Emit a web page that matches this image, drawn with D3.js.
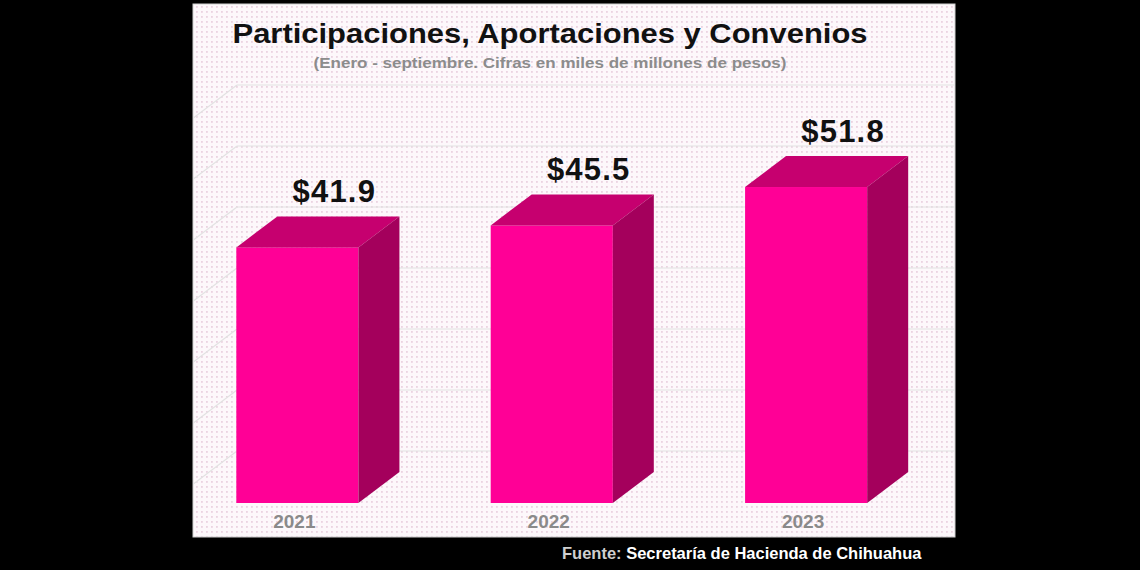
<!DOCTYPE html>
<html>
<head>
<meta charset="utf-8">
<script src="https://cdn.jsdelivr.net/npm/d3@7"></script>
<style>
  html, body { margin: 0; padding: 0; background: #000; }
  svg { display: block; }
</style>
</head>
<body>
<svg id="chart" width="1140" height="570"></svg>
<script>
// ---- data ----
const categories = ["2021", "2022", "2023"];
const values = [41.9, 45.5, 51.8];
const valueLabels = ["$41.9", "$45.5", "$51.8"];
const gridTicks = [0, 10, 20, 30, 40, 50, 60];
const titleText = "Participaciones, Aportaciones y Convenios";
const subtitleText = "(Enero - septiembre. Cifras en miles de millones de pesos)";
const sourceLabel = "Fuente: ";
const sourceText = "Secretaría de Hacienda de Chihuahua";

// ---- layout ----
const W = 1140, H = 570;
const panel = {x: 193, y: 4, w: 762, h: 533};
const svg = d3.select("#chart");

const defs = svg.append("defs");
const pat = defs.append("pattern").attr("id", "dots")
  .attr("width", 5).attr("height", 5).attr("patternUnits", "userSpaceOnUse");
pat.append("rect").attr("width", 5).attr("height", 5).attr("fill", "#fdf8fb");
pat.append("rect").attr("x", 1).attr("y", 1).attr("width", 1.8).attr("height", 1.8).attr("fill", "#ebd3e1");
defs.append("clipPath").attr("id", "pclip").append("rect")
  .attr("x", panel.x).attr("y", panel.y).attr("width", panel.w).attr("height", panel.h);

svg.append("rect").attr("width", W).attr("height", H).attr("fill", "#000");
svg.append("rect").attr("x", panel.x).attr("y", panel.y).attr("width", panel.w).attr("height", panel.h)
  .attr("fill", "url(#dots)").attr("stroke", "#cfcfcf").attr("stroke-width", 1);

// scales
const x = d3.scaleBand().domain(categories).range([160, 943.5]).paddingInner(0.52).paddingOuter(0.3);
const y = d3.scaleLinear().domain([0, 60]).range([503, 137]);
const depth = {dx: 41, dy: 31};      // bar depth
const wall = {dx: 69, dy: 52};       // back wall offset
const wallLeft = 237;

// gridlines on back wall + left side wall
const g = svg.append("g").attr("clip-path", "url(#pclip)");
gridTicks.forEach(t => {
  const yb = y(t) - wall.dy;
  g.append("line").attr("x1", wallLeft).attr("x2", panel.x + panel.w)
    .attr("y1", yb).attr("y2", yb).attr("stroke", "#e2e2e2").attr("stroke-width", 1.2);
  g.append("line").attr("x1", wallLeft).attr("y1", yb)
    .attr("x2", wallLeft - wall.dx).attr("y2", yb + wall.dy)
    .attr("stroke", "#e2e2e2").attr("stroke-width", 1.2);
});

// bars
const bars = svg.append("g");
categories.forEach((c, i) => {
  const x0 = x(c), x1 = x(c) + x.bandwidth();
  const yt = y(values[i]), yb = y(0);
  const dx = depth.dx, dy = depth.dy;
  bars.append("rect").attr("x", x0).attr("y", yt).attr("width", x1 - x0).attr("height", yb - yt)
    .attr("fill", "#ff0096");
  bars.append("path").attr("d", `M${x0},${yt}L${x0 + dx},${yt - dy}L${x1 + dx},${yt - dy}L${x1},${yt}Z`)
    .attr("fill", "#c6006f");
  bars.append("path").attr("d", `M${x1},${yt}L${x1 + dx},${yt - dy}L${x1 + dx},${yb - dy}L${x1},${yb}Z`)
    .attr("fill", "#a4005c");
  svg.append("text").attr("x", x0 + 98).attr("y", yt - dy - 14)
    .attr("text-anchor", "middle").attr("font-family", "Liberation Sans, Arial, sans-serif")
    .attr("font-weight", "bold").attr("font-size", 31).attr("letter-spacing", 1.2)
    .attr("fill", "#111").text(valueLabels[i]);
  svg.append("text").attr("x", (x0 + x1) / 2 - 3).attr("y", 528)
    .attr("text-anchor", "middle").attr("font-family", "Liberation Sans, Arial, sans-serif")
    .attr("font-weight", "bold").attr("font-size", 19).attr("fill", "#8a8a8a").text(c);
});

// titles
svg.append("text").attr("x", 550).attr("y", 43).attr("text-anchor", "middle")
  .attr("font-family", "Liberation Sans, Arial, sans-serif").attr("font-weight", "bold")
  .attr("font-size", 27).attr("fill", "#111")
  .attr("textLength", 635).attr("lengthAdjust", "spacingAndGlyphs").text(titleText);
svg.append("text").attr("x", 550).attr("y", 68).attr("text-anchor", "middle")
  .attr("font-family", "Liberation Sans, Arial, sans-serif").attr("font-weight", "bold")
  .attr("font-size", 15).attr("fill", "#8c8c8c")
  .attr("textLength", 473).attr("lengthAdjust", "spacingAndGlyphs").text(subtitleText);

// source
const src = svg.append("text").attr("x", 562).attr("y", 559)
  .attr("font-family", "Liberation Sans, Arial, sans-serif").attr("font-weight", "bold")
  .attr("font-size", 16.5);
src.append("tspan").attr("fill", "#cfcfcf").text(sourceLabel);
src.append("tspan").attr("fill", "#ffffff").text(sourceText);
</script>
</body>
</html>
